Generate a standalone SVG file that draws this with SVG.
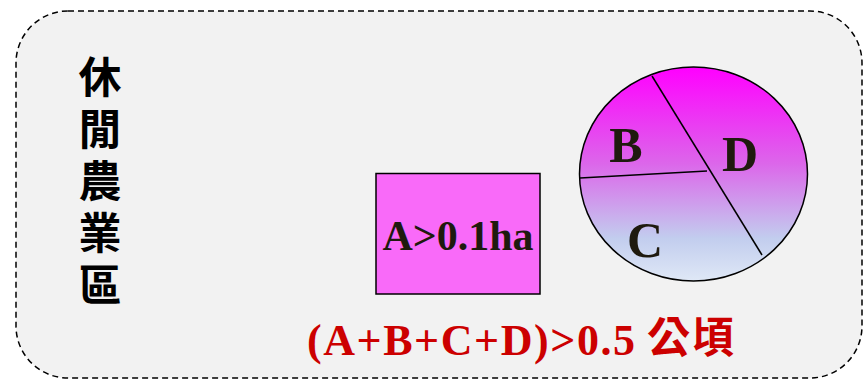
<svg xmlns="http://www.w3.org/2000/svg" width="864" height="379" viewBox="0 0 864 379">
<defs>
<linearGradient id="g" x1="0" y1="0" x2="0" y2="1">
<stop offset="0" stop-color="#ff00ff"/>
<stop offset="0.45" stop-color="#dc66ea"/>
<stop offset="0.8" stop-color="#c2cdee"/>
<stop offset="1" stop-color="#dfe8f6"/>
</linearGradient>
<style>
.lat{font-family:"Liberation Serif","Times New Roman",serif;font-weight:bold}
.cjk{font-family:"Noto Sans CJK TC","Noto Sans CJK SC",sans-serif;font-weight:bold}
.lbl{fill:#1f1a0e}
</style>
</defs>
<rect x="0" y="0" width="864" height="379" fill="#ffffff"/>
<g id="zone">
<rect x="16" y="11" width="846" height="367" rx="52" ry="52" fill="#f2f2f2" stroke="#000" stroke-width="1.5" stroke-dasharray="6,4"/>
<text class="cjk" x="100" y="55" font-size="43" fill="#000" writing-mode="vertical-rl" letter-spacing="9">休閒農業區</text>
</g>
<g id="nodeA">
<rect x="376" y="173.5" width="164" height="120.5" fill="#f96af9" stroke="#000" stroke-width="1.5"/>
<text class="lat lbl" x="458" y="250" font-size="42" text-anchor="middle">A&gt;0.1ha</text>
</g>
<g id="circle">
<ellipse cx="693.5" cy="174" rx="114" ry="107" fill="url(#g)" stroke="#000" stroke-width="1.5"/>
</g>
<g id="connectors" stroke="#000" stroke-width="1.5">
<line x1="652" y1="76" x2="762" y2="255"/>
<line x1="580" y1="178" x2="707" y2="171"/>
</g>
<g id="labels">
<text class="lat lbl" x="626" y="162" font-size="50" text-anchor="middle">B</text>
<text class="lat lbl" x="740" y="171" font-size="50" text-anchor="middle">D</text>
<text class="lat lbl" x="645" y="257" font-size="50" text-anchor="middle">C</text>
</g>
<g id="formula" fill="#cc0000">
<text class="lat" x="307" y="355" font-size="44" textLength="328" lengthAdjust="spacing">(A+B+C+D)&gt;0.5</text>
<text class="cjk" x="647" y="353" font-size="43" letter-spacing="1">公頃</text>
</g>
</svg>
